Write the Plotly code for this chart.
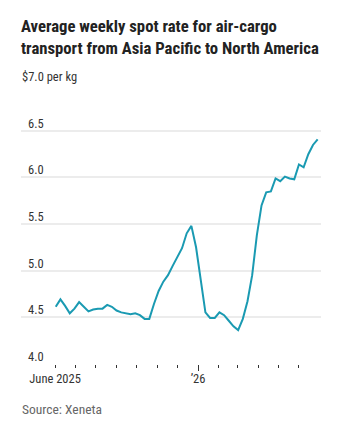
import plotly.graph_objects as go
import pandas as pd

# ---- data ----
start_date = "2025-06-02"
rates = [4.61, 4.69, 4.62, 4.54, 4.59, 4.66, 4.61, 4.56, 4.58, 4.59,
         4.59, 4.63, 4.61, 4.57, 4.55, 4.54, 4.53, 4.54, 4.52, 4.48,
         4.48, 4.64, 4.78, 4.88, 4.95, 5.05, 5.15, 5.24, 5.40, 5.48,
         5.25, 4.92, 4.55, 4.49, 4.49, 4.55, 4.52, 4.46, 4.40, 4.36,
         4.48, 4.67, 4.95, 5.38, 5.70, 5.84, 5.85, 5.99, 5.96, 6.01,
         5.99, 5.98, 6.14, 6.11, 6.25, 6.35, 6.41]
weeks = pd.date_range(start_date, periods=len(rates), freq="7D")

y_ticks = [4.0, 4.5, 5.0, 5.5, 6.0, 6.5, 7.0]
y_ticktext = ["4.0", "4.5", "5.0", "5.5", "6.0", "6.5", "$7.0 per kg"]
month_ticks = pd.date_range("2025-06-01", "2026-06-01", freq="MS")
x_label_vals = ["2025-06-01", "2026-01-01"]
x_label_text = ["June 2025", "\u201926"]

FONT = "Liberation Sans Narrow, Roboto Condensed, Arial Narrow, Roboto, sans-serif"

fig = go.Figure()
fig.add_trace(go.Scatter(x=weeks, y=rates, mode="lines",
                         line=dict(color="#1a9ab2", width=2),
                         hoverinfo="skip", showlegend=False))
# invisible trace to activate xaxis2 (long tick for the new year)
fig.add_trace(go.Scatter(x=[weeks[0]], y=[rates[0]], xaxis="x2", mode="lines",
                         line=dict(width=0), showlegend=False, hoverinfo="skip"))

for v, t in zip(y_ticks, y_ticktext):
    fig.add_annotation(x=0, xref="paper", y=v, yref="y", text=t,
                       xanchor="left", yanchor="middle",
                       xshift=(-1 if v == 7.0 else 5), yshift=7.5,
                       showarrow=False,
                       font=dict(family=FONT, size=12.5, color="#333333"))

fig.update_layout(
    width=342, height=440,
    margin=dict(l=21, r=21, t=84, b=76),
    paper_bgcolor="white", plot_bgcolor="white",
    title=dict(text="<b>Average weekly spot rate for air-cargo<br>transport from Asia Pacific to North America</b>",
               x=21 / 342, xanchor="left", xref="container",
               y=1 - 32 / 440, yanchor="top", yref="container",
               font=dict(family=FONT, size=16.7, color="#222222")),
    xaxis=dict(type="date", range=["2025-04-11", "2026-07-04"],
               showgrid=False, zeroline=False, showline=False,
               tickmode="array", tickvals=x_label_vals, ticktext=x_label_text,
               ticks="outside", ticklen=3, tickwidth=1, tickcolor="#333333",
               tickfont=dict(family=FONT, size=12.5, color="#333333"),
               minor=dict(tickmode="array", tickvals=list(month_ticks),
                          ticks="outside", ticklen=3, tickwidth=1,
                          tickcolor="#333333", showgrid=False)),
    xaxis2=dict(type="date", overlaying="x", matches="x", side="bottom",
                anchor="y", showgrid=False, zeroline=False, showline=False,
                tickmode="array", tickvals=["2026-01-01"], showticklabels=False,
                ticks="outside", ticklen=6, tickwidth=1, tickcolor="#333333"),
    yaxis=dict(range=[3.995, 7.005], tickmode="array", tickvals=y_ticks,
               showticklabels=False, showgrid=True, gridcolor="#ececec",
               gridwidth=1.5, zeroline=False, showline=False, ticks=""),
)

fig.add_annotation(text="Source: Xeneta", xref="paper", yref="paper",
                   x=0, y=-(409 - 364) / 281, xanchor="left", yanchor="middle",
                   xshift=-1, showarrow=False,
                   font=dict(family=FONT, size=13.5, color="#666666"))

fig.write_html("out.html")
